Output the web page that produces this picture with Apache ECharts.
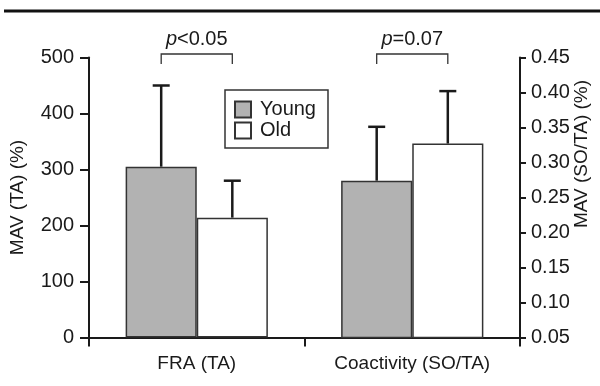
<!DOCTYPE html>
<html><head><meta charset="utf-8">
<script src="https://cdn.jsdelivr.net/npm/echarts@6/dist/echarts.min.js"></script>
<style>html,body{margin:0;padding:0;background:#fff}#c{width:600px;height:386px}</style>
</head><body><div id="c"></div>
<script>
const categories = ['FRA (TA)', 'Coactivity (SO/TA)'];
const groupNames = ['Young', 'Old'];
const youngMean = [305, 0.274];
const youngUpper = [450, 0.351];
const oldMean = [214, 0.327];
const oldUpper = [280, 0.402];
const pLabels = ['<0.05', '=0.07'];
const leftTicks = [0, 100, 200, 300, 400, 500];
const rightTicks = [0.05, 0.10, 0.15, 0.20, 0.25, 0.30, 0.35, 0.40, 0.45];

const FONT = "'Liberation Sans', Arial, Helvetica, sans-serif";
const FS = 19;
const FT = 20;
const INK = '#1a1a1a';
const CAT_GAP = 0.34;

const chart = echarts.init(document.getElementById('c'), null, {renderer: 'canvas'});

function errItem(params, api) {
  const cat = api.value(0), m = api.value(1), up = api.value(2), side = api.value(3);
  const c = api.coord([cat, m]);
  const t = api.coord([cat, up]);
  const band = api.size([1, 0])[0];
  const bw = band * (1 - CAT_GAP) / 2;
  const x = c[0] + side * bw / 2;
  return {
    type: 'group',
    children: [
      {type: 'line', shape: {x1: x, y1: c[1], x2: x, y2: t[1]}, style: {stroke: INK, lineWidth: 2.5}},
      {type: 'line', shape: {x1: x - 8.5, y1: t[1], x2: x + 8.5, y2: t[1]}, style: {stroke: INK, lineWidth: 2.5}}
    ]
  };
}

function bracketItem(params, api) {
  const cat = api.value(0);
  const c = api.coord([cat, api.value(1)]);
  const band = api.size([1, 0])[0];
  const bw = band * (1 - CAT_GAP) / 2;
  const x1 = c[0] - bw / 2, x2 = c[0] + bw / 2;
  const top = params.coordSys.y - 3.5;
  return {
    type: 'group',
    children: [
      {type: 'polyline', shape: {points: [[x1, top + 10], [x1, top], [x2, top], [x2, top + 10]]},
       style: {stroke: '#333', lineWidth: 1.3, fill: null}},
      {type: 'text', x: (x1 + x2) / 2, y: top - 5,
       style: {text: '{i|p}' + pLabels[params.dataIndex], align: 'center', verticalAlign: 'bottom',
         font: FT + 'px ' + FONT, fill: INK,
         rich: {i: {fontStyle: 'italic', fontSize: FT, fontFamily: FONT, fill: INK}}}}
    ]
  };
}

const barBase = {
  type: 'bar', barGap: '0%', barCategoryGap: (CAT_GAP * 100) + '%',
};

const option = {
  animation: false,
  backgroundColor: '#fff',
  textStyle: {fontFamily: FONT},
  grid: {left: 88, right: 80, top: 57.5, bottom: 48.5},
  legend: {
    data: groupNames, orient: 'vertical', left: 225, top: 90,
    itemWidth: 16, itemHeight: 16, itemGap: 1,
    padding: [9.5, 12, 7.5, 9],
    borderColor: '#333', borderWidth: 1.5, borderRadius: 0,
    textStyle: {fontSize: FT, fontFamily: FONT, color: INK, lineHeight: 20, padding: [0, 0, 0, 4]},
    icon: 'rect', selectedMode: false
  },
  xAxis: [
    {type: 'category', data: categories, boundaryGap: true,
     axisLine: {lineStyle: {color: INK, width: 2}},
     axisTick: {show: true, length: 9, lineStyle: {color: INK, width: 2}},
     axisLabel: {fontSize: FS, color: INK, fontFamily: FONT, margin: 17}},
    {type: 'category', data: categories, show: false, boundaryGap: true}
  ],
  yAxis: [
    {type: 'value', min: leftTicks[0], max: leftTicks[leftTicks.length - 1], interval: leftTicks[1] - leftTicks[0],
     position: 'left',
     name: 'MAV (TA) (%)', nameLocation: 'middle', nameRotate: 90, nameGap: 62,
     nameTextStyle: {fontSize: FS, color: INK, fontFamily: FONT},
     axisLine: {show: true, lineStyle: {color: INK, width: 2}},
     axisTick: {show: true, length: 9, lineStyle: {color: INK, width: 2}},
     axisLabel: {fontSize: FT, color: INK, fontFamily: FONT, margin: 15},
     splitLine: {show: false}},
    {type: 'value', min: rightTicks[0], max: rightTicks[rightTicks.length - 1], interval: 0.05,
     position: 'right',
     axisLine: {show: true, lineStyle: {color: INK, width: 2}},
     axisTick: {show: true, length: 6, lineStyle: {color: INK, width: 2}},
     axisLabel: {fontSize: FT, color: INK, fontFamily: FONT, margin: 11,
       formatter: v => v.toFixed(2)},
     splitLine: {show: false}}
  ],
  series: [
    Object.assign({}, barBase, {name: 'Young', xAxisIndex: 0, yAxisIndex: 0, data: [youngMean[0], '-'],
      itemStyle: {color: '#b2b2b2', borderColor: '#333', borderWidth: 1.5}}),
    Object.assign({}, barBase, {name: 'Old', xAxisIndex: 0, yAxisIndex: 0, data: [oldMean[0], '-'],
      itemStyle: {color: '#ffffff', borderColor: '#333', borderWidth: 1.5}}),
    Object.assign({}, barBase, {name: 'Young', xAxisIndex: 1, yAxisIndex: 1, data: ['-', youngMean[1]],
      itemStyle: {color: '#b2b2b2', borderColor: '#333', borderWidth: 1.5}}),
    Object.assign({}, barBase, {name: 'Old', xAxisIndex: 1, yAxisIndex: 1, data: ['-', oldMean[1]],
      itemStyle: {color: '#ffffff', borderColor: '#333', borderWidth: 1.5}}),
    {type: 'custom', name: 'errFRA', xAxisIndex: 0, yAxisIndex: 0, renderItem: errItem, z: 1,
     data: [[0, youngMean[0], youngUpper[0], -1], [0, oldMean[0], oldUpper[0], 1]]},
    {type: 'custom', name: 'errCo', xAxisIndex: 1, yAxisIndex: 1, renderItem: errItem, z: 1,
     data: [[1, youngMean[1], youngUpper[1], -1], [1, oldMean[1], oldUpper[1], 1]]},
    {type: 'custom', name: 'brackets', xAxisIndex: 0, yAxisIndex: 0, renderItem: bracketItem, z: 3,
     data: [[0, 0], [1, 0]]}
  ],
  graphic: [
    {type: 'line', shape: {x1: 4, y1: 11, x2: 600, y2: 11}, style: {stroke: '#111', lineWidth: 3}},
    {type: 'text', x: 582, y: 154, rotation: Math.PI / 2,
     style: {text: 'MAV (SO/TA) (%)', font: FS + 'px ' + FONT, fill: INK, align: 'center', verticalAlign: 'middle'}}
  ]
};
chart.setOption(option);
</script></body></html>
